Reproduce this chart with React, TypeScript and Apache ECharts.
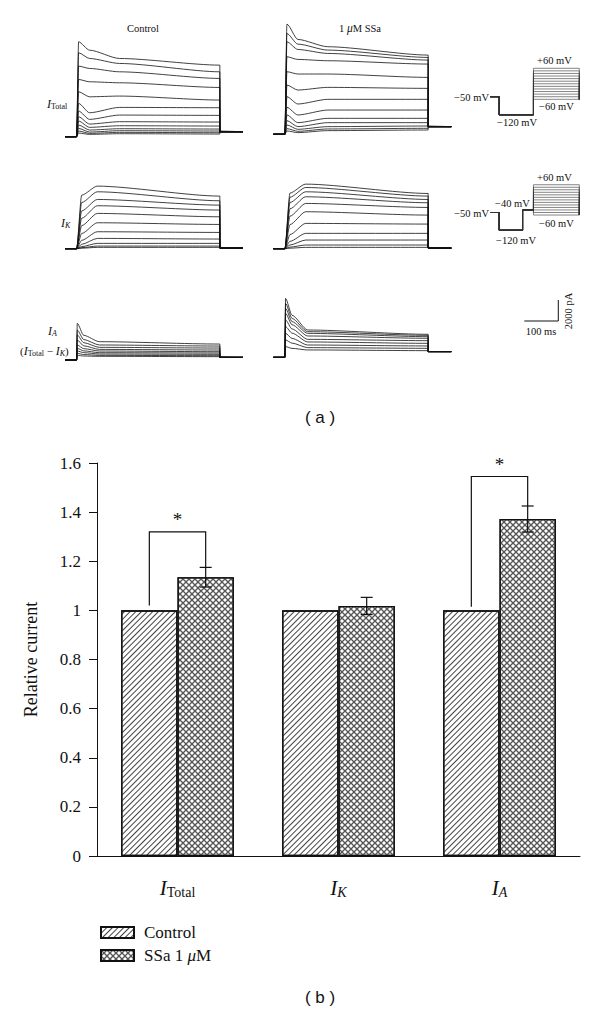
import React, { useEffect, useRef } from "react";
import * as echarts from "echarts";

const SERIF = '"Liberation Serif", "DejaVu Serif", serif';
const SANS = '"Liberation Sans", Arial, sans-serif';
const INK = "#111";

// ---------- (b) bar chart data ----------
const groups = ["Total", "K", "A"];
const controlValues = [1, 1, 1];
const ssaValues = [1.135, 1.018, 1.372];
const ssaErrors = [0.04, 0.035, 0.053];
const sigCategories = [0, 2];
const sigTops = [1.32, 1.545];
const sigLeftBases = [1.02, 1.015];
const yTicks = { min: 0, max: 1.6, interval: 0.2 };

// ---------- (a) current traces (pA), time in ms ----------
const tStart = 0;
const tStep = 34;
const tEnd = 455;
const tStop = 523;

// I_Total: values at t = 40 (peak), 72 (trough), 160, 455 (end)
const totalTimes = [40, 72, 160, 455];
const totalCtrlPeak = [9035, 7990, 6720, 5450, 4280, 3170, 2440, 1900, 1490, 1110, 790, 540, 350];
const totalCtrlTrough = [8240, 7450, 6500, 5230, 3800, 2280, 1650, 1205, 890, 634, 444, 317, 222];
const totalCtrlMid = [7450, 6975, 6180, 5135, 3870, 2790, 2060, 1430, 1045, 760, 570, 412, 285];
const totalCtrlEnd = [6815, 6180, 5550, 4690, 3490, 2760, 2030, 1395, 1015, 730, 540, 380, 254];
const totalCtrlTail = 475;
const totalSsaPeak = [10490, 9600, 8810, 7385, 5960, 4690, 3580, 2570, 1840, 1300, 890, 540, 317];
const totalSsaTrough = [9035, 8590, 8080, 7130, 5740, 4215, 2885, 1840, 1110, 730, 475, 285, 160];
const totalSsaMid = [8340, 8020, 7700, 7005, 5740, 4470, 3330, 2310, 1520, 1110, 730, 507, 350];
const totalSsaEnd = [7545, 7320, 7070, 6690, 5420, 4375, 3330, 2310, 1520, 1110, 790, 570, 410];
const totalSsaTail = 730;

// I_K: values at t = 49, 95, 455
const kTimes = [49, 95, 455];
const kCtrlEarly = [5100, 4400, 3600, 2900, 2200, 1450, 800, 420, 200, 100, 50];
const kCtrlPlateau = [5960, 5420, 4690, 4090, 3360, 2470, 1615, 980, 507, 250, 127];
const kCtrlEnd = [5010, 4565, 4150, 3680, 3040, 2310, 1550, 920, 507, 250, 127];
const kCtrlTail = 60;
const kSsaEarly = [5300, 4900, 4400, 3800, 3100, 2300, 1350, 700, 350, 150, 50];
const kSsaPlateau = [6150, 5830, 5420, 4945, 4310, 3520, 2410, 1460, 825, 350, 127];
const kSsaEnd = [5260, 5010, 4690, 4375, 3930, 3200, 2345, 1460, 825, 350, 127];
const kSsaTail = 60;

// I_A: values at t = 36 (peak), 55, 101, 455
const aTimes = [36, 55, 101, 455];
const aCtrlPeak = [3490, 2850, 2380, 1900, 1430, 1110, 855, 634, 444];
const aCtrlFast = [2350, 1950, 1650, 1350, 1080, 870, 700, 520, 380];
const aCtrlMid = [1745, 1430, 1205, 1010, 855, 697, 570, 443, 349];
const aCtrlEnd = [1520, 1330, 1140, 950, 790, 665, 540, 412, 317];
const aCtrlTail = 254;
const aSsaPeak = [5610, 5135, 4660, 4185, 3550, 2920, 2280, 1650, 1015];
const aSsaFast = [4000, 3700, 3400, 3100, 2700, 2300, 1800, 1350, 850];
const aSsaMid = [2600, 2440, 2280, 2030, 1710, 1460, 1170, 920, 700];
const aSsaEnd = [2190, 2090, 1965, 1810, 1585, 1330, 1080, 855, 634];
const aSsaTail = 540;

// voltage protocols (mV)
const testVoltages = [-60, -50, -40, -30, -20, -10, 0, 10, 20, 30, 40, 50, 60];
const protoTimes1 = [0, 27, 128, 263];
const protoTimes2 = [0, 27, 96, 128, 263];
const holdMv = -50;
const hyperMv = -120;
const preMv = -40;
const returnMv = -60;

// scale bar
const scaleMs = 100;
const scalePa = 2000;

function buildTraces(gridIndex: number, times: number[], cols: number[][], tail: number) {
  const n = cols[0].length;
  const out: any[] = [];
  for (let i = 0; i < n; i++) {
    const data: number[][] = [
      [tStart, 0],
      [tStep, 0],
      ...times.map((t, k) => [t, cols[k][i]]),
      [tEnd, tail],
      [tStop, tail],
    ];
    out.push({
      type: "line",
      xAxisIndex: gridIndex,
      yAxisIndex: gridIndex,
      data,
      symbol: "none",
      smooth: 0.25,
      smoothMonotone: "x",
      clip: false,
      silent: true,
      lineStyle: { color: INK, width: 0.8 },
    });
  }
  return out;
}

function buildProtocol(gridIndex: number, second: boolean) {
  return testVoltages.map((v) => {
    const data = second
      ? [
          [protoTimes2[0], holdMv],
          [protoTimes2[1], holdMv],
          [protoTimes2[1], hyperMv],
          [protoTimes2[2], hyperMv],
          [protoTimes2[2], preMv],
          [protoTimes2[3], preMv],
          [protoTimes2[3], v],
          [protoTimes2[4], v],
          [protoTimes2[4], returnMv],
        ]
      : [
          [protoTimes1[0], holdMv],
          [protoTimes1[1], holdMv],
          [protoTimes1[1], hyperMv],
          [protoTimes1[2], hyperMv],
          [protoTimes1[2], v],
          [protoTimes1[3], v],
          [protoTimes1[3], returnMv],
        ];
    return {
      type: "line",
      xAxisIndex: gridIndex,
      yAxisIndex: gridIndex,
      data,
      symbol: "none",
      clip: false,
      silent: true,
      lineStyle: { color: "#333", width: 0.6 },
    };
  });
}

function txt(x: number, y: number, text: string, opts: any = {}) {
  const align = opts.align || "left";
  const va = opts.va || "middle";
  return {
    type: "text",
    x,
    y,
    rotation: opts.rotation || 0,
    silent: true,
    style: {
      text,
      fill: INK,
      fontFamily: opts.family || SERIF,
      fontSize: opts.size || 10.5,
      fontStyle: opts.italic ? "italic" : "normal",
      align,
      verticalAlign: va,
      textAlign: align,
      textVerticalAlign: va,
      rich: opts.rich,
    },
  };
}

const smallRich = (size: number) => ({
  n: { fontFamily: SERIF, fontSize: size, fill: INK },
  i: { fontFamily: SERIF, fontSize: size + 1, fontStyle: "italic", fill: INK },
  s: { fontFamily: SERIF, fontSize: size - 3, fill: INK, padding: [5, 0, 0, 0] },
  si: { fontFamily: SERIF, fontSize: size - 3, fontStyle: "italic", fill: INK, padding: [5, 0, 0, 0] },
});

const XPATH =
  "path://M0,0L1.6,0L10,8.4L10,10L8.4,10L0,1.6Z M8.4,0L10,0L10,1.6L1.6,10L0,10L0,8.4Z";

export default function App() {
  const ref = useRef<HTMLDivElement>(null);

  useEffect(() => {
    if (!ref.current) return;
    const chart = echarts.init(ref.current, null, { renderer: "svg" });

    const traceW = 178;
    const traceH = 115.5;
    const traceY = { min: -500, max: 10500 };
    const grids: any[] = [
      { left: 65, top: 26.45, width: traceW, height: traceH },
      { left: 273.3, top: 24.05, width: traceW, height: traceH },
      { left: 65, top: 138.45, width: traceW, height: traceH },
      { left: 273.3, top: 138.45, width: traceW, height: traceH },
      { left: 65, top: 249.75, width: traceW, height: traceH },
      { left: 273.3, top: 247.05, width: traceW, height: traceH },
      { left: 490, top: 65.7, width: 89.3, height: 51.7 },
      { left: 490, top: 182.2, width: 89.3, height: 50.5 },
      { left: 524.3, top: 300, width: 34, height: 21 },
      { left: 97, top: 463, width: 483, height: 393 },
    ];
    const xAxes: any[] = [];
    const yAxes: any[] = [];
    for (let g = 0; g < 6; g++) {
      xAxes.push({ type: "value", gridIndex: g, min: tStart, max: tStop, show: false });
      yAxes.push({ type: "value", gridIndex: g, min: traceY.min, max: traceY.max, show: false });
    }
    for (let g = 6; g < 8; g++) {
      xAxes.push({ type: "value", gridIndex: g, min: 0, max: 263, show: false });
      yAxes.push({ type: "value", gridIndex: g, min: -130, max: 70, show: false });
    }
    xAxes.push({ type: "value", gridIndex: 8, min: 0, max: scaleMs, show: false });
    yAxes.push({ type: "value", gridIndex: 8, min: 0, max: scalePa, show: false });

    xAxes.push({
      type: "category",
      gridIndex: 9,
      data: groups,
      axisLine: { lineStyle: { color: INK, width: 1 } },
      axisTick: { alignWithLabel: true, length: 8, lineStyle: { color: INK } },
      axisLabel: {
        margin: 20,
        formatter: (v: string) => (v === "Total" ? "{i|I}{s|Total}" : "{i|I}{si|" + v + "}"),
        rich: {
          i: { fontFamily: SERIF, fontSize: 21, fontStyle: "italic", color: INK },
          s: { fontFamily: SERIF, fontSize: 14, color: INK, padding: [9, 0, 0, 0] },
          si: { fontFamily: SERIF, fontSize: 14, fontStyle: "italic", color: INK, padding: [9, 0, 0, 0] },
        },
      },
    });
    yAxes.push({
      type: "value",
      gridIndex: 9,
      min: yTicks.min,
      max: yTicks.max,
      interval: yTicks.interval,
      name: "Relative current",
      nameLocation: "middle",
      nameGap: 57,
      nameTextStyle: { fontFamily: SERIF, fontSize: 18, color: INK },
      axisLine: { show: true, lineStyle: { color: INK, width: 1 } },
      axisTick: { show: true, length: 8, lineStyle: { color: INK } },
      splitLine: { show: false },
      axisLabel: { fontFamily: SERIF, fontSize: 17, color: INK, margin: 16 },
    });

    const series: any[] = [
      ...buildTraces(0, totalTimes, [totalCtrlPeak, totalCtrlTrough, totalCtrlMid, totalCtrlEnd], totalCtrlTail),
      ...buildTraces(1, totalTimes, [totalSsaPeak, totalSsaTrough, totalSsaMid, totalSsaEnd], totalSsaTail),
      ...buildTraces(2, kTimes, [kCtrlEarly, kCtrlPlateau, kCtrlEnd], kCtrlTail),
      ...buildTraces(3, kTimes, [kSsaEarly, kSsaPlateau, kSsaEnd], kSsaTail),
      ...buildTraces(4, aTimes, [aCtrlPeak, aCtrlFast, aCtrlMid, aCtrlEnd], aCtrlTail),
      ...buildTraces(5, aTimes, [aSsaPeak, aSsaFast, aSsaMid, aSsaEnd], aSsaTail),
      ...buildProtocol(6, false),
      ...buildProtocol(7, true),
      {
        type: "line",
        xAxisIndex: 8,
        yAxisIndex: 8,
        data: [
          [0, 0],
          [scaleMs, 0],
          [scaleMs, scalePa],
        ],
        symbol: "none",
        clip: false,
        silent: true,
        lineStyle: { color: INK, width: 1 },
      },
      {
        name: "Control",
        type: "bar",
        xAxisIndex: 9,
        yAxisIndex: 9,
        data: controlValues,
        barGap: "0%",
        barCategoryGap: "30%",
        itemStyle: {
          color: "#fff",
          borderColor: INK,
          borderWidth: 1.3,
          decal: {
            symbol: "rect",
            symbolSize: 1,
            color: "#444",
            dashArrayX: [1, 0],
            dashArrayY: [1, 3],
            rotation: -Math.PI / 4,
          },
        },
      },
      {
        name: "SSa 1 μM",
        type: "bar",
        xAxisIndex: 9,
        yAxisIndex: 9,
        data: ssaValues,
        barGap: "0%",
        barCategoryGap: "30%",
        itemStyle: {
          color: "#fff",
          borderColor: INK,
          borderWidth: 1.3,
          decal: {
            symbol: XPATH,
            symbolSize: 1,
            symbolKeepAspect: false,
            color: "#555",
            dashArrayX: [6, 0],
            dashArrayY: [6, 0],
            rotation: 0,
          },
        },
      },
      {
        type: "custom",
        xAxisIndex: 9,
        yAxisIndex: 9,
        silent: true,
        z: 5,
        data: ssaValues.map((v, i) => [i, v - ssaErrors[i], v + ssaErrors[i]]),
        renderItem: (params: any, api: any) => {
          const i = api.value(0);
          const lo = api.coord([i, api.value(1)]);
          const hi = api.coord([i, api.value(2)]);
          const band = api.size([1, 0])[0];
          const x = lo[0] + band * 0.175;
          const cap = 6;
          const st = { stroke: INK, lineWidth: 1.2 };
          return {
            type: "group",
            children: [
              { type: "line", shape: { x1: x, y1: lo[1], x2: x, y2: hi[1] }, style: st },
              { type: "line", shape: { x1: x - cap, y1: hi[1], x2: x + cap, y2: hi[1] }, style: st },
              { type: "line", shape: { x1: x - cap, y1: lo[1], x2: x + cap, y2: lo[1] }, style: st },
            ],
          };
        },
      },
      {
        type: "custom",
        xAxisIndex: 9,
        yAxisIndex: 9,
        silent: true,
        z: 5,
        data: sigCategories.map((c, k) => [c, sigLeftBases[k], sigTops[k], ssaValues[c] + ssaErrors[c]]),
        renderItem: (params: any, api: any) => {
          const c = api.value(0);
          const pl = api.coord([c, api.value(1)]);
          const pt = api.coord([c, api.value(2)]);
          const pr = api.coord([c, api.value(3)]);
          const band = api.size([1, 0])[0];
          const xl = pl[0] - band * 0.175;
          const xr = pl[0] + band * 0.175;
          return {
            type: "group",
            children: [
              {
                type: "polyline",
                shape: {
                  points: [
                    [xl, pl[1]],
                    [xl, pt[1]],
                    [xr, pt[1]],
                    [xr, pr[1]],
                  ],
                },
                style: { stroke: INK, lineWidth: 1.2, fill: null },
              },
              {
                type: "text",
                x: pl[0],
                y: pt[1] - 3,
                style: {
                  text: "*",
                  fontFamily: SERIF,
                  fontSize: 19,
                  fill: INK,
                  align: "center",
                  verticalAlign: "bottom",
                  textAlign: "center",
                  textVerticalAlign: "bottom",
                },
              },
            ],
          };
        },
      },
    ];

    const graphic: any[] = [
      txt(143, 28, "Control", { align: "center" }),
      txt(360, 28, "{n|1 }{i|μ}{n|M SSa}", { align: "center", rich: smallRich(10.5) }),
      txt(47, 104, "{i|I}{s|Total}", { rich: smallRich(11) }),
      txt(61, 223, "{i|I}{si|K}", { rich: smallRich(11) }),
      txt(48, 331, "{i|I}{si|A}", { rich: smallRich(11) }),
      txt(20, 351, "{n|(}{i|I}{s|Total}{n| − }{i|I}{si|K}{n|)}", { rich: smallRich(11) }),
      txt(489, 97, "−50 mV", { align: "right" }),
      txt(537, 60, "+60 mV"),
      txt(539, 106, "−60 mV"),
      txt(497, 122, "−120 mV"),
      txt(489, 213, "−50 mV", { align: "right" }),
      txt(495, 203, "−40 mV"),
      txt(537, 177, "+60 mV"),
      txt(539, 223, "−60 mV"),
      txt(496, 240, "−120 mV"),
      txt(541, 331, "100 ms", { align: "center" }),
      txt(568, 311, "2000 pA", { align: "center", rotation: Math.PI / 2 }),
      txt(320, 417, "( a )", { align: "center", family: SANS, size: 17 }),
      txt(320, 997, "( b )", { align: "center", family: SANS, size: 17 }),
    ];

    chart.setOption({
      animation: false,
      backgroundColor: "#fff",
      grid: grids,
      xAxis: xAxes,
      yAxis: yAxes,
      series,
      graphic,
      legend: {
        data: ["Control", "SSa 1 μM"],
        orient: "vertical",
        left: 95,
        top: 919,
        itemWidth: 33,
        itemHeight: 11,
        itemGap: 6,
        icon: "rect",
        formatter: (name: string) => (name === "Control" ? "{n0|Control}" : "{n0|SSa 1 }{i|μ}{n|M}"),
        textStyle: {
          color: INK,
          fontFamily: SERIF,
          fontSize: 17,
          rich: {
            n0: { fontFamily: SERIF, fontSize: 17, color: INK, padding: [0, 0, 0, 5] },
            n: { fontFamily: SERIF, fontSize: 17, color: INK },
            i: { fontFamily: SERIF, fontSize: 17, fontStyle: "italic", color: INK },
          },
        },
      },
    });

    return () => chart.dispose();
  }, []);

  return (
    <div
      ref={ref}
      style={{ position: "fixed", left: 0, top: 0, width: 600, height: 1015, background: "#fff" }}
    />
  );
}
